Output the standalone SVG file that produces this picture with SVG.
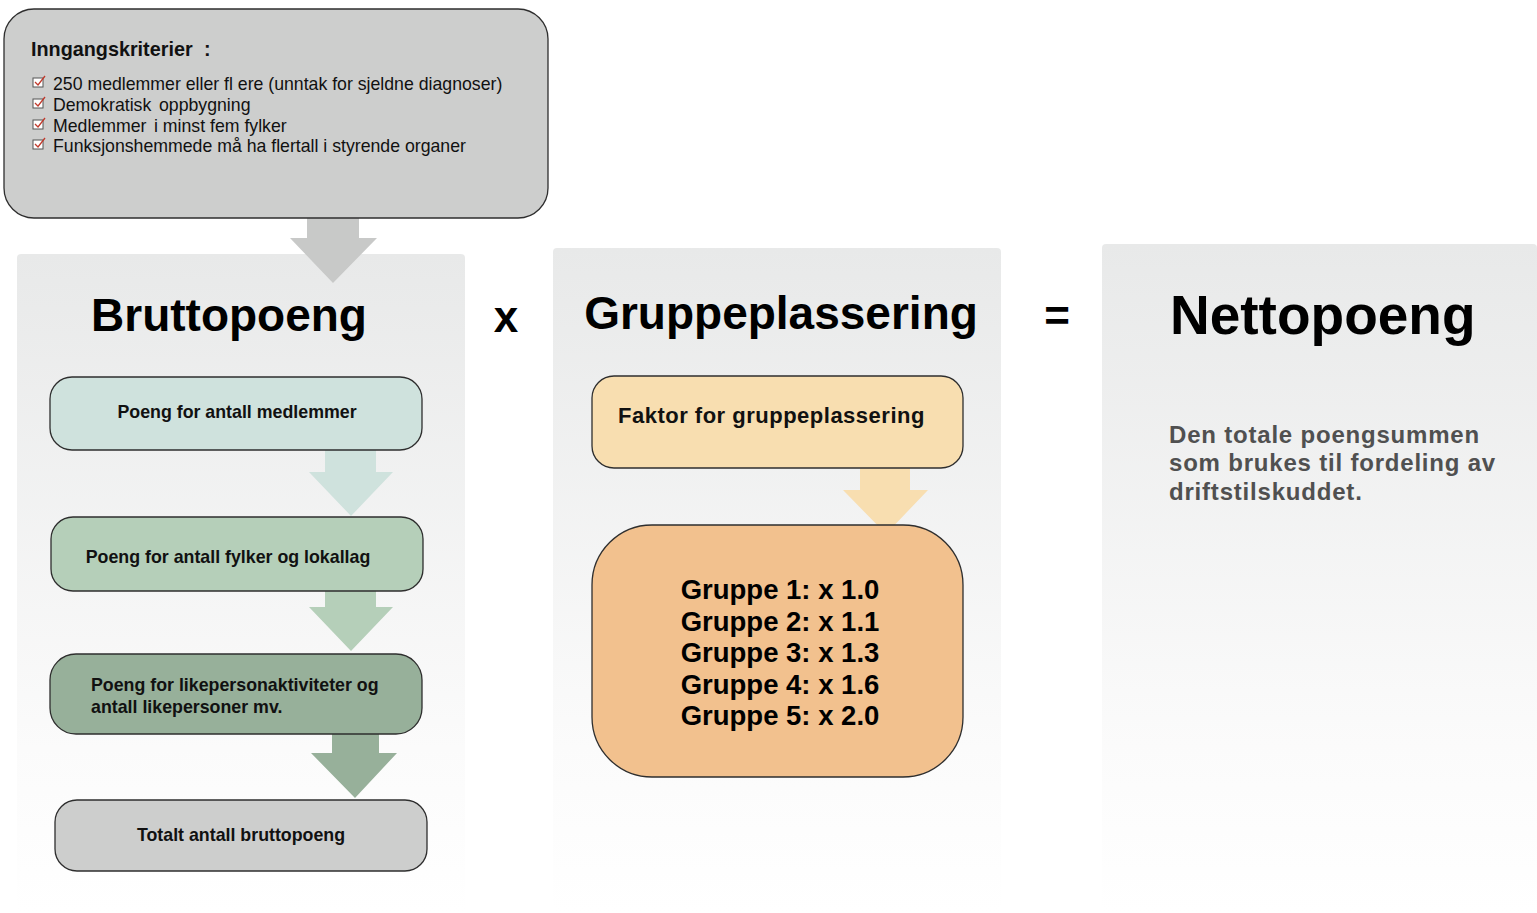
<svg xmlns="http://www.w3.org/2000/svg" width="1537" height="913" viewBox="0 0 1537 913">
<defs>
<linearGradient id="pg" x1="0" y1="0" x2="0" y2="1">
<stop offset="0" stop-color="#e8e9e9"/>
<stop offset="0.75" stop-color="#fbfbfb"/>
<stop offset="1" stop-color="#ffffff"/>
</linearGradient>
<style>
.panel{fill:url(#pg);}
.box{stroke:#2e2e2e;stroke-width:1.3;}
.t{font-family:"Liberation Sans",Arial,sans-serif;fill:#111;}
.b{font-weight:bold;}
.h{font-family:"Liberation Sans",Arial,sans-serif;font-weight:bold;fill:#000;}
.lbl{font-family:"Liberation Sans",Arial,sans-serif;font-weight:bold;fill:#111;font-size:17.8px;}
.chk{fill:#fff;stroke:#555;stroke-width:1;}
.tick{fill:none;stroke:#c0392b;stroke-width:1.3;}
</style>
</defs>
<rect width="1537" height="913" fill="#ffffff"/>
<rect class="panel" x="17" y="254" width="448" height="659" rx="4"/>
<rect class="panel" x="553" y="248" width="448" height="665" rx="4"/>
<rect class="panel" x="1102" y="244" width="435" height="669" rx="4"/>

<g id="connectors">
<path d="M307 218 H359 V238 H377 L333 283 L290 238 H307 Z" fill="#c8c9c8"/>
<path d="M325 450 H376 V472 H393 L351 516 L309 472 H325 Z" fill="#cfe2dd"/>
<path d="M325 591 H376 V607 H393 L351 651 L309 607 H325 Z" fill="#b5cfb9"/>
<path d="M332 734 H379 V753 H397 L355 798 L311 753 H332 Z" fill="#97b09a"/>
<path d="M860 468 H910 V490 H928 L886 534 L843 490 H860 Z" fill="#f8deb0"/>
</g>

<g id="inngang">
<rect class="box" x="4" y="9" width="544" height="209" rx="30" fill="#cdcecd"/>
<text class="t b" x="31" y="56" font-size="19.8">Inngangskriterier</text>
<text class="t b" x="204" y="56" font-size="19.8">:</text>
<g font-size="17.7" class="t" fill="#222">
<text x="53" y="90">250 medlemmer eller fl ere (unntak for sjeldne diagnoser)</text>
<text x="53" y="111">Demokratisk<tspan x="159">oppbygning</tspan></text>
<text x="53" y="132">Medlemmer<tspan x="154">i minst fem fylker</tspan></text>
<text x="53" y="152">Funksjonshemmede må ha flertall i styrende organer</text>
</g>
<g>
<rect class="chk" x="33" y="78" width="10" height="9"/><path class="tick" d="M35 82 L38 85 L45 76"/>
<rect class="chk" x="33" y="99" width="10" height="9"/><path class="tick" d="M35 103 L38 106 L45 97"/>
<rect class="chk" x="33" y="120" width="10" height="9"/><path class="tick" d="M35 124 L38 127 L45 118"/>
<rect class="chk" x="33" y="140" width="10" height="9"/><path class="tick" d="M35 144 L38 147 L45 138"/>
</g>
</g>

<g id="titles">
<text class="h" x="229" y="331" font-size="46" text-anchor="middle">Bruttopoeng</text>
<text class="h" x="506" y="332" font-size="44" text-anchor="middle">x</text>
<text class="h" x="781" y="329" font-size="46" text-anchor="middle">Gruppeplassering</text>
<text class="h" x="1057" y="331" font-size="44" text-anchor="middle">=</text>
<text class="h" x="1170" y="334" font-size="55">Nettopoeng</text>
</g>

<g id="medlemmer">
<rect class="box" x="50" y="377" width="372" height="73" rx="22" fill="#cfe2dd"/>
<text class="lbl" x="237" y="418" text-anchor="middle">Poeng for antall medlemmer</text>
</g>
<g id="fylker">
<rect class="box" x="51" y="517" width="372" height="74" rx="22" fill="#b5cfb9"/>
<text class="lbl" x="228" y="563" text-anchor="middle">Poeng for antall fylker og lokallag</text>
</g>
<g id="likeperson">
<rect class="box" x="50" y="654" width="372" height="80" rx="26" fill="#97b09a"/>
<text class="lbl" x="91" y="691">Poeng for likepersonaktiviteter og</text>
<text class="lbl" x="91" y="713">antall likepersoner mv.</text>
</g>
<g id="totalt">
<rect class="box" x="55" y="800" width="372" height="71" rx="22" fill="#cdcecd"/>
<text class="lbl" x="241" y="841" text-anchor="middle">Totalt antall bruttopoeng</text>
</g>

<g id="faktor">
<rect class="box" x="592" y="376" width="371" height="92" rx="22" fill="#f8deb0"/>
<text class="lbl" x="618" y="423" style="font-size:22px;letter-spacing:0.5px">Faktor for gruppeplassering</text>
</g>
<g id="grupper">
<rect class="box" x="592" y="525" width="371" height="252" rx="60" fill="#f2c18e"/>
<g class="h" font-size="27.5" text-anchor="middle" fill="#111">
<text x="780" y="599">Gruppe 1: x 1.0</text>
<text x="780" y="631">Gruppe 2: x 1.1</text>
<text x="780" y="662">Gruppe 3: x 1.3</text>
<text x="780" y="694">Gruppe 4: x 1.6</text>
<text x="780" y="725">Gruppe 5: x 2.0</text>
</g>
</g>

<g id="netto">
<g class="h" font-size="24" letter-spacing="0.8" style="fill:#505050">
<text x="1169" y="443">Den totale poengsummen</text>
<text x="1169" y="471">som brukes til fordeling av</text>
<text x="1169" y="500">driftstilskuddet.</text>
</g>
</g>
</svg>
